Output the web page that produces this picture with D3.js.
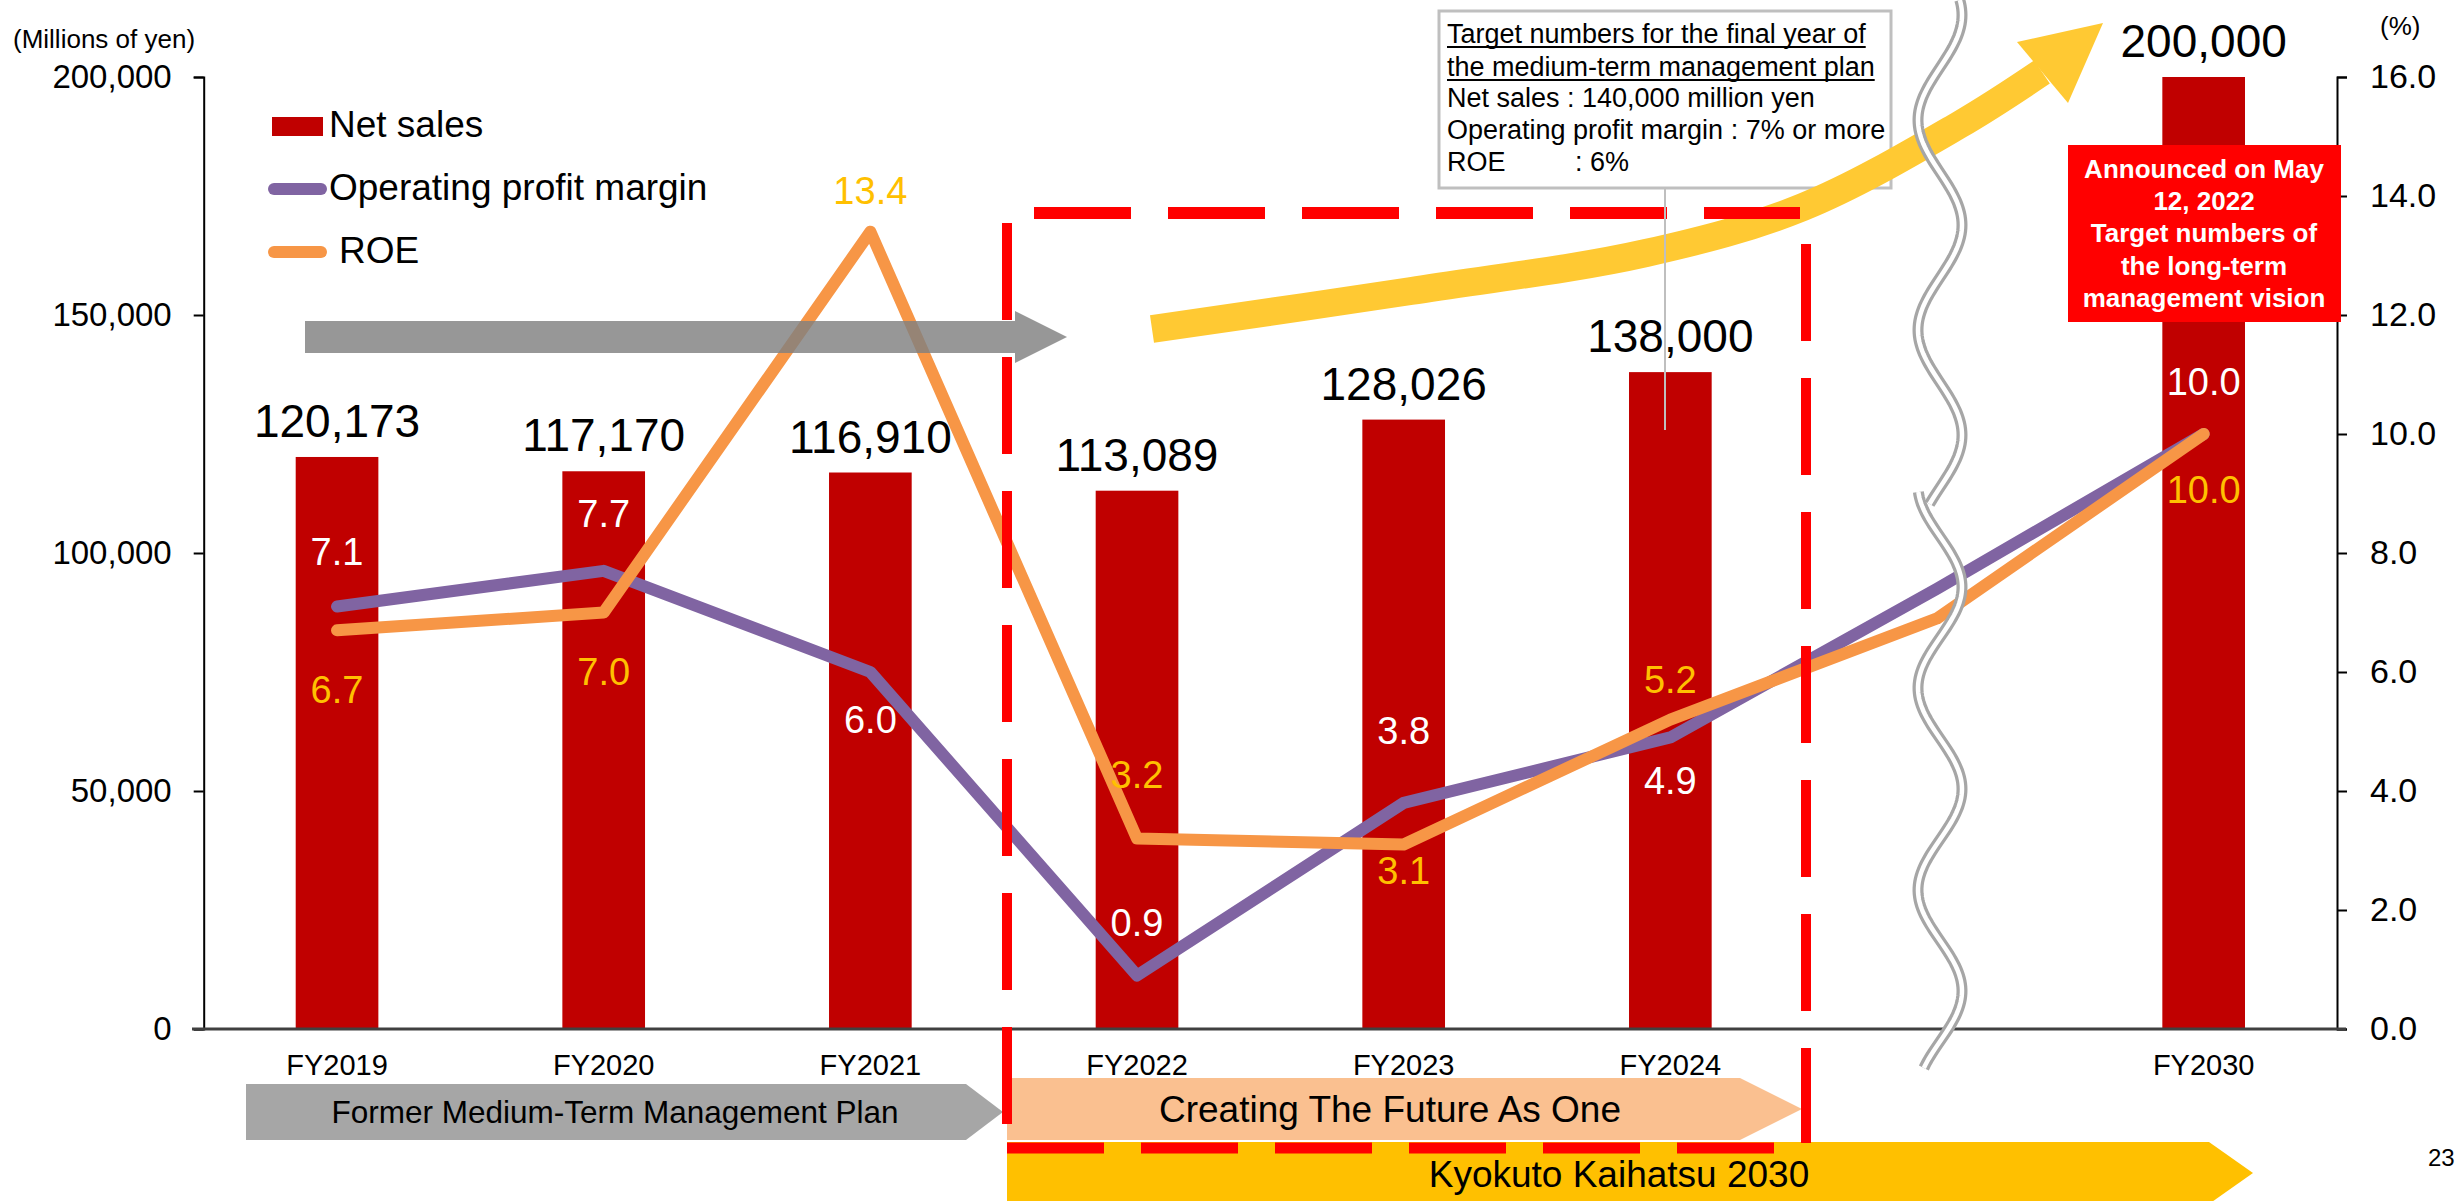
<!DOCTYPE html>
<html>
<head>
<meta charset="utf-8">
<script src="https://cdn.jsdelivr.net/npm/d3@7"></script>
<style>
html, body { margin: 0; padding: 0; background: #fff; }
svg { display: block; font-family: "Liberation Sans", Arial, sans-serif; }
</style>
</head>
<body>
<svg id="chart" width="2458" height="1201"></svg>
<script>
// data
var categories = ["FY2019", "FY2020", "FY2021", "FY2022", "FY2023", "FY2024", "", "FY2030"];
var net_sales = [120173, 117170, 116910, 113089, 128026, 138000, null, 200000];
var op_margin = [7.1, 7.7, 6.0, 0.9, 3.8, 4.9, 7.4, 10.0];
var roe = [6.7, 7.0, 13.4, 3.2, 3.1, 5.2, 6.9, 10.0];
var show_label = [1, 1, 1, 1, 1, 1, 0, 1];
var sales_ticks = [0, 50000, 100000, 150000, 200000];
var pct_ticks = [0, 2, 4, 6, 8, 10, 12, 14, 16];
var plan_names = ["Former Medium-Term Management Plan", "Creating The Future As One", "Kyokuto Kaihatsu 2030"];
var target_note = ["Target numbers for the final year of", "the medium-term management plan",
    "Net sales : 140,000 million yen", "Operating profit margin : 7% or more"];
var vision_note = ["Announced on May", "12, 2022", "Target numbers of", "the long-term", "management vision"];

// label placement (pixels from the point, label centre)
var op_label_dy = [-55, -58, 47, -53, -73, 43, 0, -53];
var roe_label_dy = [59, 59, -41, -64, 26, -40, 0, 55];

var svg = d3.select("#chart");
var plot_left = 203.7, plot_right = 2337, plot_top = 77, plot_bottom = 1029;

var x = d3.scaleBand().domain(categories).range([plot_left, plot_right])
    .paddingInner(0.69).paddingOuter(0.345);
var cx = function(i) { return x(categories[i]) + x.bandwidth() / 2; };
var y_sales = d3.scaleLinear().domain([0, 200000]).range([plot_bottom, plot_top]);
var y_pct = d3.scaleLinear().domain([0, 16]).range([plot_bottom, plot_top]);

// ---- bottom plan chevrons
function chevron(x0, x1, tip, y0, y1) {
    return [[x0, y0], [x1, y0], [tip, (y0 + y1) / 2], [x1, y1], [x0, y1]];
}
var banners = [
    { pts: chevron(246, 966, 1003, 1084, 1140), fill: "#A6A6A6", tx: 615, ty: 1123, size: 31.5 },
    { pts: chevron(1007, 1740, 1802, 1078, 1140), fill: "#FAC090", tx: 1390, ty: 1122, size: 37 },
    { pts: chevron(1007, 2209, 2253, 1142, 1204), fill: "#FFC000", tx: 1619, ty: 1187, size: 37 }
];
var gb = svg.append("g");
gb.selectAll("polygon").data(banners).enter().append("polygon")
    .attr("points", function(d) { return d.pts.join(" "); })
    .attr("fill", function(d) { return d.fill; });
gb.selectAll("text").data(banners).enter().append("text")
    .attr("x", function(d) { return d.tx; })
    .attr("y", function(d) { return d.ty; })
    .attr("text-anchor", "middle")
    .attr("font-size", function(d) { return d.size; })
    .text(function(d, i) { return plan_names[i]; });

// ---- target note box
var note = svg.append("g");
note.append("rect").attr("x", 1439).attr("y", 11).attr("width", 452).attr("height", 177)
    .attr("fill", "#fff").attr("stroke", "#BFBFBF").attr("stroke-width", 3);
var note_base = [43, 76, 107, 139];
target_note.forEach(function(t, i) {
    var tx = note.append("text").attr("x", 1447).attr("y", note_base[i])
        .attr("font-size", 27).text(t);
    if (i < 2) {
        var w = tx.node().getComputedTextLength();
        note.append("line").attr("x1", 1447).attr("x2", 1447 + w)
            .attr("y1", note_base[i] + 4).attr("y2", note_base[i] + 4)
            .attr("stroke", "#000").attr("stroke-width", 2);
    }
});
note.append("text").attr("x", 1447).attr("y", 171).attr("font-size", 27).text("ROE");
note.append("text").attr("x", 1575).attr("y", 171).attr("font-size", 27).text(": 6%");

// ---- bars
var bar_data = net_sales.map(function(v, i) { return { v: v, i: i }; })
    .filter(function(d) { return d.v != null; });
svg.append("g").selectAll("rect").data(bar_data).enter().append("rect")
    .attr("x", function(d) { return x(categories[d.i]); })
    .attr("width", x.bandwidth())
    .attr("y", function(d) { return y_sales(d.v); })
    .attr("height", function(d) { return y_sales(0) - y_sales(d.v); })
    .attr("fill", "#C00000");

// ---- axes
var ax_l = svg.append("g").attr("transform", "translate(" + plot_left + ",0)")
    .call(d3.axisLeft(y_sales).tickValues(sales_ticks).tickFormat(d3.format(","))
        .tickSize(10).tickPadding(22));
var ax_r = svg.append("g").attr("transform", "translate(" + plot_right + ",0)")
    .call(d3.axisRight(y_pct).tickValues(pct_ticks).tickFormat(d3.format(".1f"))
        .tickSize(10).tickPadding(23));
[ax_l, ax_r].forEach(function(a) {
    a.attr("font-family", null);
    a.selectAll("path, line").attr("stroke", "#000").attr("stroke-width", 2);
    a.selectAll("text").attr("fill", "#000");
});
ax_l.attr("font-size", 33);
ax_r.attr("font-size", 34);
var ax_b = svg.append("g").attr("transform", "translate(0," + plot_bottom + ")")
    .call(d3.axisBottom(x).tickSize(0).tickPadding(25));
ax_b.attr("font-family", null).attr("font-size", 29);
ax_b.select(".domain").remove();
ax_b.selectAll("text").attr("fill", "#000");
svg.append("line").attr("x1", 192).attr("x2", 2346)
    .attr("y1", plot_bottom).attr("y2", plot_bottom)
    .attr("stroke", "#404040").attr("stroke-width", 3);

// ---- ratio lines
var line_gen = d3.line()
    .x(function(d, i) { return cx(i); })
    .y(function(d) { return y_pct(d); });
svg.append("path").datum(op_margin).attr("d", line_gen)
    .attr("fill", "none").attr("stroke", "#8064A2").attr("stroke-width", 12)
    .attr("stroke-linejoin", "round").attr("stroke-linecap", "round");
svg.append("path").datum(roe).attr("d", line_gen)
    .attr("fill", "none").attr("stroke", "#F79646").attr("stroke-width", 12)
    .attr("stroke-linejoin", "round").attr("stroke-linecap", "round");

// ---- grey arrow (former plan)
svg.append("polygon")
    .attr("points", [[305, 321], [1015, 321], [1015, 311], [1067, 337], [1015, 363], [1015, 353], [305, 353]].join(" "))
    .attr("fill", "#808080").attr("opacity", 0.82);

// ---- yellow growth arrow
var curve_pts = [[1152, 329], [1411, 291], [1646, 253], [1803, 207], [1959, 125], [2042, 72]];
svg.append("path").attr("d", d3.line().curve(d3.curveCatmullRom.alpha(0.5))(curve_pts))
    .attr("fill", "none").attr("stroke", "#FFC933").attr("stroke-width", 28);
svg.append("polygon").attr("points", [[2103, 23], [2017, 42], [2068, 103]].join(" "))
    .attr("fill", "#FFC933");

// ---- red dashed frame of the current plan
var frame = [
    { x1: 1034, y1: 213, x2: 1800, y2: 213, w: 12 },
    { x1: 1007, y1: 223, x2: 1007, y2: 1124, w: 10 },
    { x1: 1806, y1: 244, x2: 1806, y2: 1143, w: 10 },
    { x1: 1007, y1: 1148, x2: 1774, y2: 1148, w: 11 }
];
svg.append("g").selectAll("line").data(frame).enter().append("line")
    .attr("x1", function(d) { return d.x1; }).attr("y1", function(d) { return d.y1; })
    .attr("x2", function(d) { return d.x2; }).attr("y2", function(d) { return d.y2; })
    .attr("stroke", "#FF0000").attr("stroke-width", function(d) { return d.w; })
    .attr("stroke-dasharray", "97 37");

// leader from the note
svg.append("line").attr("x1", 1665).attr("x2", 1665).attr("y1", 188).attr("y2", 430)
    .attr("stroke", "#BFBFBF").attr("stroke-width", 2);

// ---- bar value labels
svg.append("g").selectAll("text").data(bar_data).enter().append("text")
    .attr("x", function(d) { return cx(d.i); })
    .attr("y", function(d) { return y_sales(d.v) - 20; })
    .attr("text-anchor", "middle").attr("font-size", 46)
    .text(function(d) { return d3.format(",")(d.v); });

// ---- ratio labels
function add_labels(vals, dys, color) {
    svg.append("g").selectAll("text")
        .data(vals.map(function(v, i) { return { v: v, i: i }; })
            .filter(function(d) { return show_label[d.i]; }))
        .enter().append("text")
        .attr("x", function(d) { return cx(d.i); })
        .attr("y", function(d) { return y_pct(d.v) + dys[d.i]; })
        .attr("dy", "0.36em")
        .attr("text-anchor", "middle").attr("font-size", 38)
        .attr("fill", color)
        .text(function(d) { return d3.format(".1f")(d.v); });
}
add_labels(op_margin, op_label_dy, "#FFFFFF");
add_labels(roe, roe_label_dy, "#FFC000");

// ---- long-term vision call-out
svg.append("rect").attr("x", 2068).attr("y", 145).attr("width", 273).attr("height", 177)
    .attr("fill", "#FF0000");
svg.append("g").selectAll("text").data(vision_note).enter().append("text")
    .attr("x", 2204)
    .attr("y", function(d, i) { return 178 + i * 32.2; })
    .attr("text-anchor", "middle").attr("font-size", 26).attr("font-weight", "bold")
    .attr("fill", "#fff")
    .text(function(d) { return d; });

// ---- wavy axis break
function wave(y0, y1, phase, period) {
    var pts = d3.range(y0, y1 + 1, 3).map(function(y) {
        return [1940 + 22 * Math.cos(2 * Math.PI * (y - phase) / period), y];
    });
    return d3.line()(pts);
}
[wave(0, 505, 15, 210), wave(492, 1070, 587, 202)].forEach(function(d) {
    svg.append("path").attr("d", d).attr("fill", "none")
        .attr("stroke", "#A6A6A6").attr("stroke-width", 11);
    svg.append("path").attr("d", d).attr("fill", "none")
        .attr("stroke", "#fff").attr("stroke-width", 4.5);
});

// ---- legend
var lg = svg.append("g");
lg.append("rect").attr("x", 272).attr("y", 117).attr("width", 51).attr("height", 19).attr("fill", "#C00000");
lg.append("text").attr("x", 329).attr("y", 137).attr("font-size", 37).text("Net sales");
lg.append("line").attr("x1", 274).attr("x2", 321).attr("y1", 189).attr("y2", 189)
    .attr("stroke", "#8064A2").attr("stroke-width", 12).attr("stroke-linecap", "round");
lg.append("text").attr("x", 329).attr("y", 200).attr("font-size", 37).text("Operating profit margin");
lg.append("line").attr("x1", 274).attr("x2", 321).attr("y1", 252).attr("y2", 252)
    .attr("stroke", "#F79646").attr("stroke-width", 12).attr("stroke-linecap", "round");
lg.append("text").attr("x", 339).attr("y", 263).attr("font-size", 37).text("ROE");

// ---- units and page number
svg.append("text").attr("x", 13).attr("y", 48).attr("font-size", 26).text("(Millions of yen)");
svg.append("text").attr("x", 2380).attr("y", 35).attr("font-size", 26).text("(%)");
svg.append("text").attr("x", 2428).attr("y", 1166).attr("font-size", 24).text("23");
</script>
</body>
</html>
